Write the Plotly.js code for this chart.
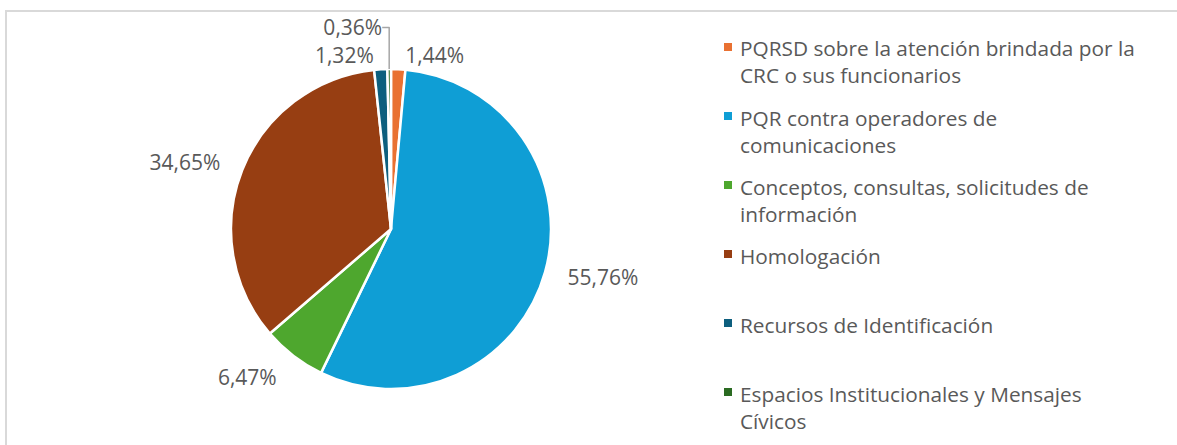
<!DOCTYPE html>
<html>
<head>
<meta charset="utf-8">
<script src="https://cdn.plot.ly/plotly-3.0.1.min.js"></script>
<style>
  html, body { margin: 0; padding: 0; background: #fff; }
  #chart { width: 1177px; height: 445px; }
  /* Excel draws leader lines in light grey, Plotly uses the text colour */
  #chart path.textline { stroke: #A6A6A6 !important; stroke-width: 1.5px !important; }
</style>
</head>
<body>
<div id="chart"></div>
<script>
// slices, clockwise from 12 o'clock
const categories = [
  'PQRSD sobre la atención brindada por la<br>CRC o sus funcionarios',
  'PQR contra operadores de<br>comunicaciones',
  'Conceptos, consultas, solicitudes de<br>información',
  'Homologación',
  'Recursos de Identificación',
  'Espacios Institucionales y Mensajes<br>Cívicos'
];
const shares = [1.44, 55.76, 6.47, 34.65, 1.32, 0.36];
const colors = ['#E97132', '#0F9ED5', '#4EA72E', '#973E12', '#0D5F7E', '#2B6B22'];

const W = 1177, H = 445;
const font = 'Open Sans, Liberation Sans, sans-serif';
const textCol = '#595959';

// hand-made legend (Excel spaces the entries evenly, Plotly's legend can't)
const legTop = 47, legStep = 69, lineH = 27;
const annotations = [], shapes = [];
categories.forEach((c, i) => {
  const yc = legTop + i * legStep;
  annotations.push({
    xref: 'paper', yref: 'paper', x: 738 / W, y: 1 - (yc - lineH / 2 - 1) / H,
    xanchor: 'left', yanchor: 'top', align: 'left', showarrow: false,
    text: c, font: {family: font, size: 20.8, color: textCol}
  });
  shapes.push({
    type: 'rect', xref: 'paper', yref: 'paper', line: {width: 0}, fillcolor: colors[i],
    x0: 724 / W, x1: 732 / W, y0: 1 - (yc + 4) / H, y1: 1 - (yc - 4) / H
  });
});
// chart area border
shapes.push({
  type: 'rect', xref: 'paper', yref: 'paper', layer: 'below',
  x0: 6 / W, x1: 1.01, y0: -0.01, y1: 1 - 11 / H,
  line: {color: '#D9D9D9', width: 2}, fillcolor: 'rgba(0,0,0,0)'
});

const cx = 391, cy = 229, r = 160, rLab = 176;
const dom = (rr) => ({x: [(cx - rr) / W, (cx + rr) / W], y: [1 - (cy + rr) / H, 1 - (cy - rr) / H]});
const base = {type: 'pie', labels: categories, values: shares, sort: false,
  direction: 'clockwise', rotation: 0, hoverinfo: 'none'};
const clear = {colors: shares.map(() => 'rgba(0,0,0,0)'), line: {width: 0}};
const labFont = {family: font, size: 21, color: textCol};
const tpl = '%{value:.2f}%';
const small = shares.map(v => v < 2);

Plotly.newPlot('chart', [
  // slices
  {...base, domain: dom(r), textinfo: 'none',
   marker: {colors, line: {color: '#fff', width: 2.5}}},
  // big-slice labels: on a slightly bigger transparent pie so they sit further out like Excel's
  {...base, domain: dom(rLab), marker: clear, textposition: 'outside',
   texttemplate: small.map(s => s ? '' : tpl), textfont: labFont},
  // thin slices at the top: labels right at the rim, with leader lines
  {...base, domain: dom(r), marker: clear, textposition: 'outside',
   texttemplate: small.map(s => s ? tpl : ''), textfont: labFont}
], {
  width: W, height: H, margin: {l: 0, r: 0, t: 0, b: 0},
  paper_bgcolor: '#fff', showlegend: false, separators: ',.',
  annotations, shapes
}, {staticPlot: true});
</script>
</body>
</html>
